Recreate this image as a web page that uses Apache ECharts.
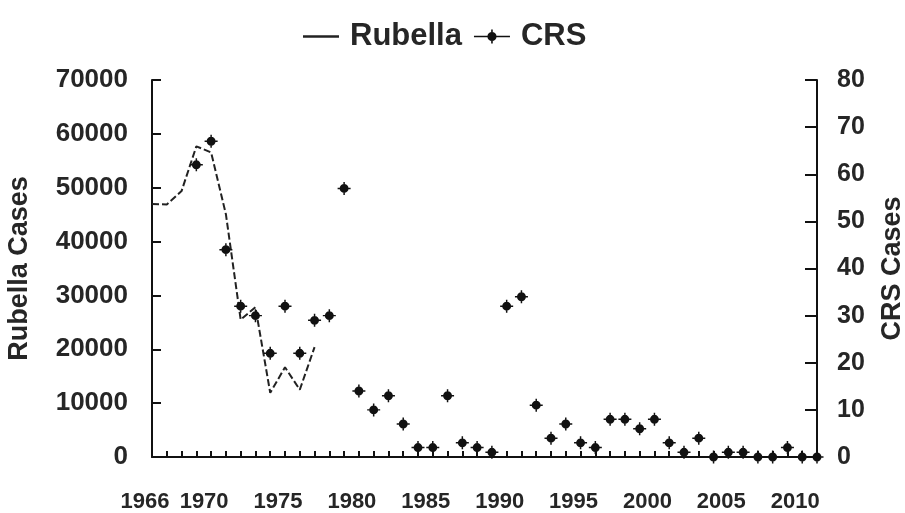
<!DOCTYPE html>
<html>
<head>
<meta charset="utf-8">
<script src="https://cdn.jsdelivr.net/npm/echarts@6/dist/echarts.min.js"></script>
<style>
  html, body { margin: 0; padding: 0; background: #ffffff; }
  #chart { width: 905px; height: 513px; }
</style>
</head>
<body>
<div id="chart"></div>
<script>
const years = ['1966','1967','1968','1969','1970','1971','1972','1973','1974','1975',
  '1976','1977','1978','1979','1980','1981','1982','1983','1984','1985',
  '1986','1987','1988','1989','1990','1991','1992','1993','1994','1995',
  '1996','1997','1998','1999','2000','2001','2002','2003','2004','2005',
  '2006','2007','2008','2009','2010','2011'];
const yearLabels = ['1966','1970','1975','1980','1985','1990','1995','2000','2005','2010'];
const rubellaCases = [46975, 46888, 49371, 57686, 56552, 45086, 25507, 27804, 11917, 16652,
  12491, 20395, null, null, null, null, null, null, null, null,
  null, null, null, null, null, null, null, null, null, null,
  null, null, null, null, null, null, null, null, null, null,
  null, null, null, null, null, null];
const crsCases = [null, null, null, 62, 67, 44, 32, 30, 22, 32,
  22, 29, 30, 57, 14, 10, 13, 7, 2, 2,
  13, 3, 2, 1, 32, 34, 11, 4, 7, 3,
  2, 8, 8, 6, 8, 3, 1, 4, 0, 1,
  1, 0, 0, 2, 0, 0];
const leftTicks = { min: 0, max: 70000, interval: 10000 };
const rightTicks = { min: 0, max: 80, interval: 10 };

const FONT = 'Liberation Sans, Arial, sans-serif';
const TXT = '#262626';
const markerPath = 'path://M-0.8,-7 H0.8 V7 H-0.8 Z M-7,-0.8 H7 V0.8 H-7 Z M0,-4.8 A4.8,4.8 0 1,1 0,4.8 A4.8,4.8 0 1,1 0,-4.8 Z';
const legendCrsIcon = 'path://M0,6.2 H36 V7.8 H0 Z M17.2,0 H18.8 V14 H17.2 Z M18,2.4 A4.6,4.6 0 1,1 18,11.6 A4.6,4.6 0 1,1 18,2.4 Z';

const chart = echarts.init(document.getElementById('chart'), null, { renderer: 'canvas' });
chart.setOption({
  animation: false,
  backgroundColor: '#ffffff',
  legend: {
    top: 16,
    left: 298,
    itemWidth: 36,
    itemHeight: 14,
    itemGap: 12,
    textStyle: { fontFamily: FONT, fontSize: 31, fontWeight: 'bold', color: TXT, padding: [0, 0, 0, 6] },
    data: [
      { name: 'Rubella', icon: 'path://M0,5.8 H36 V8.2 H0 Z' },
      { name: 'CRS', icon: legendCrsIcon }
    ]
  },
  grid: { left: 152, right: 88, top: 80, bottom: 56, containLabel: false, outerBoundsMode: 'none' },
  xAxis: {
    type: 'category',
    data: years,
    boundaryGap: false,
    axisLine: { show: true, onZero: false, lineStyle: { color: '#111', width: 2 } },
    axisTick: { show: true, inside: true, length: 6, interval: 0, lineStyle: { color: '#111', width: 2 } },
    axisLabel: {
      interval: function (idx, val) { return yearLabels.indexOf(val) >= 0; },
      fontFamily: FONT, fontSize: 22, fontWeight: 'bold', color: TXT,
      margin: 34, padding: [0, 14, 0, 0]
    },
    splitLine: { show: false }
  },
  yAxis: [
    {
      type: 'value',
      position: 'left',
      min: leftTicks.min, max: leftTicks.max, interval: leftTicks.interval,
      name: 'Rubella Cases',
      nameLocation: 'middle',
      nameRotate: 90,
      nameGap: 119,
      nameTextStyle: { fontFamily: FONT, fontSize: 27, fontWeight: 'bold', color: TXT },
      axisLine: { show: true, lineStyle: { color: '#111', width: 2 } },
      axisTick: { show: true, inside: true, length: 9, lineStyle: { color: '#111', width: 2 } },
      axisLabel: { fontFamily: FONT, fontSize: 26, fontWeight: 'bold', color: TXT, margin: 24,
        formatter: function (v) { return String(v); } },
      splitLine: { show: false }
    },
    {
      type: 'value',
      position: 'right',
      min: rightTicks.min, max: rightTicks.max, interval: rightTicks.interval,
      name: 'CRS Cases',
      nameLocation: 'middle',
      nameRotate: 90,
      nameGap: 62,
      nameTextStyle: { fontFamily: FONT, fontSize: 27, fontWeight: 'bold', color: TXT },
      axisLine: { show: true, lineStyle: { color: '#111', width: 2 } },
      axisTick: { show: true, inside: true, length: 12, lineStyle: { color: '#111', width: 2 } },
      axisLabel: { fontFamily: FONT, fontSize: 25, fontWeight: 'bold', color: TXT, margin: 20 },
      splitLine: { show: false }
    }
  ],
  series: [
    {
      name: 'Rubella',
      type: 'line',
      yAxisIndex: 0,
      data: rubellaCases,
      showSymbol: false,
      symbol: 'none',
      connectNulls: false,
      lineStyle: { color: '#222', width: 2, type: [7, 3] },
      itemStyle: { color: '#222' }
    },
    {
      name: 'CRS',
      type: 'line',
      yAxisIndex: 1,
      data: crsCases,
      symbol: markerPath,
      symbolSize: 13,
      showAllSymbol: true,
      lineStyle: { width: 0, opacity: 0, color: '#111' },
      itemStyle: { color: '#111', borderWidth: 0 }
    }
  ]
});
</script>
</body>
</html>
